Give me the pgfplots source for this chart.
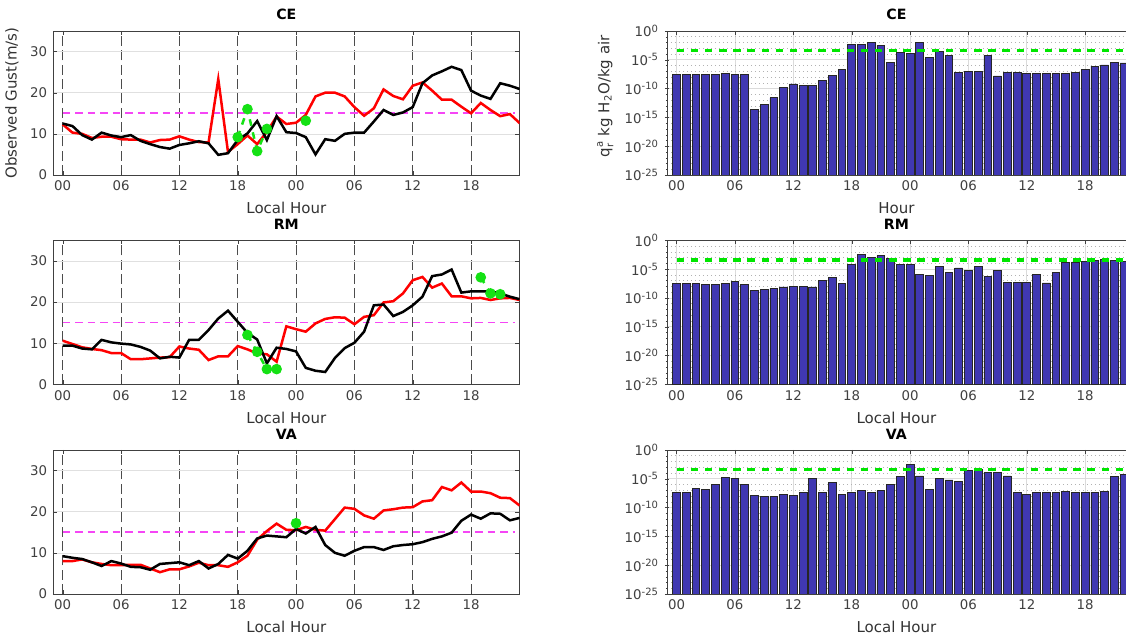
\documentclass[border=0pt]{standalone}
\usepackage{fontspec}
\setmainfont{DejaVu Sans}
\usepackage{amsmath}
\usepackage{pgfplots}
\pgfplotsset{compat=1.18}
\usepackage{pgfplotstable}

\definecolor{barblue}{RGB}{64,56,178}
\definecolor{obsgreen}{RGB}{20,225,20}
\definecolor{thrmag}{RGB}{245,70,245}
\definecolor{linegreen}{RGB}{0,230,0}

\pgfplotstableread{
h r k
0 12.3 12.5
1 10.3 11.9
2 10.0 9.7
3 9.0 8.6
4 9.3 10.3
5 9.3 9.6
6 8.7 9.2
7 8.6 9.7
8 8.6 8.3
9 7.9 7.5
10 8.5 6.8
11 8.6 6.4
12 9.4 7.3
13 8.6 7.7
14 8.0 8.2
15 7.9 7.7
16 23.3 4.9
17 5.6 5.3
18 7.5 8.5
19 9.6 10.1
20 7.5 13.1
21 10.5 8.5
22 14.2 14.3
23 12.4 10.4
24 12.7 10.2
25 14.6 9.2
26 19.1 5.0
27 20.0 8.7
28 20.0 8.3
29 19.1 10.0
30 16.5 10.3
31 14.4 10.3
32 16.2 13.0
33 20.8 15.8
34 19.2 14.6
35 18.4 15.2
36 21.7 16.5
37 22.5 22.3
38 20.5 24.2
39 18.3 25.2
40 18.3 26.3
41 16.6 25.5
42 15.0 20.5
43 17.5 19.3
44 15.8 18.5
45 14.3 22.3
46 14.8 21.7
47 12.6 20.9
}\ceL

\pgfplotstableread{
h r k
0 10.6 9.4
1 9.8 9.4
2 9.0 8.7
3 8.6 8.5
4 8.3 10.8
5 7.6 10.2
6 7.6 9.9
7 6.1 9.7
8 6.1 9.1
9 6.3 8.2
10 6.5 6.3
11 6.6 6.7
12 9.2 6.5
13 8.7 10.8
14 8.4 10.8
15 5.9 13.2
16 6.8 16.0
17 6.8 17.9
18 9.3 15.2
19 8.5 12.5
20 7.5 10.9
21 7.3 5.1
22 5.5 8.9
23 14.1 8.6
24 13.4 8.0
25 12.8 4.0
26 14.8 3.3
27 15.9 3.0
28 16.3 6.4
29 16.2 8.8
30 14.6 10.1
31 16.4 12.8
32 16.8 19.2
33 19.9 19.4
34 20.2 16.6
35 22.1 17.6
36 25.3 19.2
37 26.1 21.3
38 23.5 26.3
39 24.5 26.7
40 21.4 27.9
41 21.4 22.3
42 20.9 22.6
43 21.0 22.6
44 20.5 22.6
45 20.9 22.1
46 21.0 21.3
47 20.5 20.7
}\rmL

\pgfplotstableread{
h r k
0 8.0 9.2
1 8.0 8.8
2 8.4 8.5
3 7.7 7.7
4 7.3 6.8
5 7.0 8.0
6 7.0 7.4
7 7.1 6.6
8 7.1 6.5
9 6.2 5.9
10 5.3 7.3
11 6.0 7.5
12 6.0 7.7
13 6.7 7.0
14 7.6 8.0
15 7.0 6.2
16 7.0 7.3
17 6.6 9.5
18 7.7 8.6
19 9.3 10.5
20 13.2 13.5
21 15.3 14.2
22 17.1 14.0
23 15.6 13.8
24 15.5 15.8
25 16.3 14.7
26 15.6 16.3
27 15.4 11.9
28 18.2 10.0
29 21.0 9.3
30 20.7 10.5
31 19.1 11.4
32 18.3 11.4
33 20.3 10.7
34 20.6 11.6
35 21.0 11.9
36 21.1 12.1
37 22.5 12.6
38 22.8 13.4
39 26.0 14.0
40 25.2 14.9
41 27.1 17.8
42 24.9 19.3
43 24.9 18.3
44 24.5 19.6
45 23.4 19.5
46 23.3 17.9
47 21.5 18.5
}\vaL

\pgfplotstableread{
h ce rm va
0 3.16e-8 3.16e-8 5.01e-8
1 3.16e-8 3.16e-8 5.01e-8
2 2.51e-8 3.16e-8 2.51e-7
3 2.51e-8 2.51e-8 1.26e-7
4 2.51e-8 2.51e-8 1e-6
5 3.98e-8 3.16e-8 1.58e-5
6 2.51e-8 7.94e-8 1e-5
7 2.51e-8 2.51e-8 1e-6
8 2.0e-14 2.0e-9 1.26e-8
9 2.0e-13 2.51e-9 1e-8
10 2.51e-12 3.98e-9 1e-8
11 1.58e-10 7.94e-9 2.0e-8
12 6.31e-10 1e-8 1.26e-8
13 3.16e-10 1e-8 5.01e-8
14 3.98e-10 7.94e-9 1e-5
15 2.51e-9 1e-7 5.01e-8
16 2.0e-8 3.16e-7 2.0e-6
17 2.51e-7 3.16e-8 2.0e-8
18 3.98e-3 6.31e-5 5.01e-8
19 3.98e-3 3.16e-3 7.94e-8
20 1e-2 1.26e-3 5.01e-8
21 3.16e-3 2.0e-3 7.94e-8
22 3.16e-6 6.31e-4 1e-6
23 1.58e-4 6.31e-5 2.24e-5
24 1.26e-4 6.31e-5 3.16e-3
25 1e-2 1.26e-6 3.16e-5
26 2.51e-5 7.94e-7 1.26e-7
27 3.16e-4 2.51e-5 1e-5
28 5.01e-5 3.16e-6 6.31e-6
29 6.31e-8 1.58e-5 3.16e-6
30 1e-7 6.31e-6 3.16e-4
31 1e-7 2.51e-5 3.98e-4
32 6.31e-5 6.31e-7 1.12e-4
33 1.58e-8 6.31e-6 1.12e-4
34 6.31e-8 5.01e-8 3.16e-5
35 6.31e-8 5.01e-8 3.55e-8
36 4.47e-8 5.01e-8 2.0e-8
37 4.47e-8 1.26e-6 5.01e-8
38 4.47e-8 3.98e-8 5.01e-8
39 4.47e-8 3.16e-6 5.01e-8
40 3.55e-8 1.26e-4 7.08e-8
41 6.31e-8 1.78e-4 5.01e-8
42 2.24e-7 2.51e-4 5.01e-8
43 7.94e-7 3.16e-4 5.01e-8
44 1.26e-6 5.01e-4 7.08e-8
45 3.55e-6 3.16e-4 2.24e-5
46 2.82e-6 2.51e-4 5.62e-5
}\qtab

\pgfplotsset{
  common/.style={
    scale only axis, height=86.4pt,
    /pgf/number format/assume math mode=true,
    tick label style={font=\fontsize{8}{9}\selectfont, text=black!75},
    label style={font=\fontsize{9}{10}\selectfont, text=black!80},
    title style={font=\bfseries\fontsize{8.5}{10}\selectfont, yshift=-3pt},
    axis line style={black!75}, tick style={black!75},
    major tick length=2.5pt, minor tick length=1.3pt,
    xtick={0,6,...,42}, xticklabels={00,06,12,18,00,06,12,18},
    xlabel={Local Hour},
    unbounded coords=jump,
  },
  lp/.style={common, width=280pt, xmin=-1, xmax=47, ymin=0, ymax=35,
    ytick={0,10,20,30},
    xmajorgrids, ymajorgrids,
    major x grid style={black!70, line width=0.5pt, dash pattern=on 6pt off 2.6pt},
    major y grid style={black!12, line width=0.4pt},
  },
  rp/.style={common, width=275.5pt, xmin=-1, xmax=46.2,
    ymin=1e-25, ymax=1, log origin y=infty,
    ytick={1e-25,1e-20,1e-15,1e-10,1e-5,1},
    yticklabels={10\textsuperscript{-25},10\textsuperscript{-20},10\textsuperscript{-15},10\textsuperscript{-10},10\textsuperscript{-5},10\textsuperscript{0}},
    minor ytick={1e-24,1e-23,1e-22,1e-21,1e-19,1e-18,1e-17,1e-16,1e-14,1e-13,1e-12,1e-11,1e-9,1e-8,1e-7,1e-6,1e-4,1e-3,1e-2,1e-1},
    xmajorgrids, ymajorgrids, yminorgrids,
    major grid style={black!14, line width=0.4pt},
    minor y grid style={black!30, line width=0.4pt, dotted},
    axis x line=box, axis y line=left, axis line style={-},
    x label style={font=\fontsize{9}{10}\selectfont, text=black!80},
    y label style={font=\fontsize{9}{10}\selectfont, text=black!80, xshift=4pt},
  },
  redl/.style={red, line width=1.5pt},
  blkl/.style={black, line width=1.5pt},
  obs/.style={obsgreen, line width=1.5pt, dash pattern=on 4pt off 4pt, mark=*, mark size=2.4pt, mark options={solid}},
  bars/.style={ybar, bar shift=0pt, bar width=0.8, fill=barblue, draw=black!85, line width=0.5pt},
  thr/.style={draw=thrmag, line width=1pt, dash pattern=on 4.5pt off 3pt},
  gthr/.style={draw=linegreen, line width=2pt, dash pattern=on 4.5pt off 4pt},
}

\begin{document}
\begin{tikzpicture}
\path[use as bounding box] (0,0) rectangle (675.6pt,382.8pt);

% ---- left column ----
\begin{axis}[lp, at={(31.8pt,277.8pt)}, anchor=south west, title={CE},
  ylabel={Observed Gust(m/s)}]
  \addplot[thr] coordinates {(0,15) (46.5,15)};
  \addplot[redl] table[x=h,y=r] {\ceL};
  \addplot[blkl] table[x=h,y=k] {\ceL};
  \addplot[obs] coordinates {(18,9.2) (19,16) (20,5.8) (21,11.2) (22,nan) (25,13.2)};
\end{axis}

\begin{axis}[lp, at={(31.8pt,152.2pt)}, anchor=south west, title={RM}]
  \addplot[thr] coordinates {(0,15) (46.5,15)};
  \addplot[redl] table[x=h,y=r] {\rmL};
  \addplot[blkl] table[x=h,y=k] {\rmL};
  \addplot[obs] coordinates {(19,12) (20,7.9) (21,3.7) (22,3.7) (23,nan) (43,26) (44,22.1) (45,21.9)};
\end{axis}

\begin{axis}[lp, at={(31.8pt,26.4pt)}, anchor=south west, title={VA}]
  \addplot[thr] coordinates {(0,15) (46.5,15)};
  \addplot[redl] table[x=h,y=r] {\vaL};
  \addplot[blkl] table[x=h,y=k] {\vaL};
  \addplot[obs] coordinates {(24,17.2)};
\end{axis}

% ---- right column ----
\begin{semilogyaxis}[rp, at={(400.1pt,277.8pt)}, anchor=south west, title={CE},
  xlabel={Hour},
  ylabel={$\text{q}_{\text{r}}^{\text{a}}$ kg H\textsubscript{2}O/kg air}]
  \addplot[bars] table[x=h,y=ce] {\qtab};
  \addplot[gthr] coordinates {(0,4e-4) (47,4e-4)};
\end{semilogyaxis}

\begin{semilogyaxis}[rp, at={(400.1pt,152.2pt)}, anchor=south west, title={RM}]
  \addplot[bars] table[x=h,y=rm] {\qtab};
  \addplot[gthr] coordinates {(0,4e-4) (47,4e-4)};
\end{semilogyaxis}

\begin{semilogyaxis}[rp, at={(400.1pt,26.4pt)}, anchor=south west, title={VA}]
  \addplot[bars] table[x=h,y=va] {\qtab};
  \addplot[gthr] coordinates {(0,4e-4) (47,4e-4)};
\end{semilogyaxis}
\end{tikzpicture}
\end{document}
